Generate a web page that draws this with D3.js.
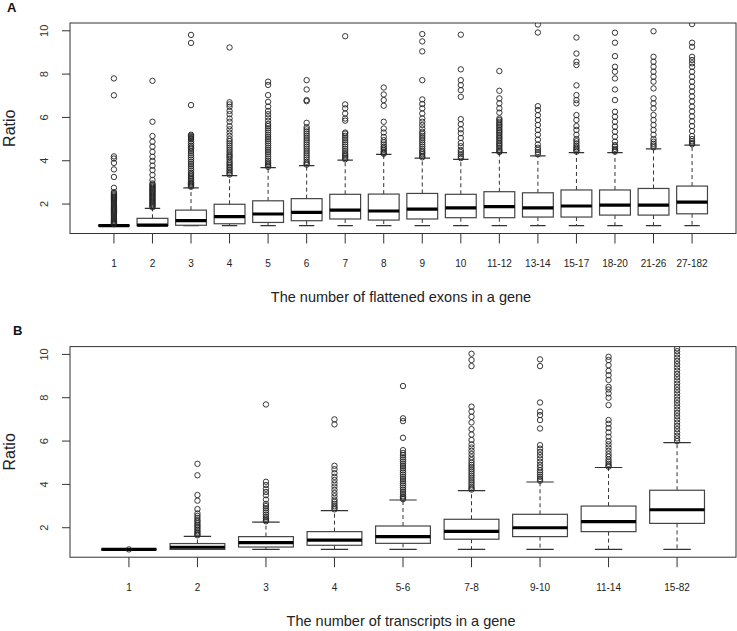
<!DOCTYPE html>
<html><head><meta charset="utf-8">
<script src="https://cdn.jsdelivr.net/npm/d3@7"></script>
<style>
body{margin:0;background:#fff}
svg{display:block}
text{font-family:"Liberation Sans",Arial,Helvetica,sans-serif}
</style></head>
<body><svg id="chart" width="737" height="631"></svg>
<script>
// ---------- Panel A data ----------
const catsA = ["1","2","3","4","5","6","7","8","9","10","11-12","13-14","15-17","18-20","21-26","27-182"];
const loA  = [1.0,1.0,1.0,1.0,1.0,1.0,1.0,1.0,1.0,1.0,1.0,1.0,1.0,1.0,1.0,1.0];
const q1A  = [1.0,1.0,1.02,1.09,1.15,1.23,1.31,1.26,1.31,1.37,1.37,1.40,1.40,1.49,1.49,1.55];
const medA = [1.0,1.03,1.23,1.42,1.54,1.62,1.72,1.68,1.77,1.82,1.88,1.82,1.91,1.95,1.95,2.09];
const q3A  = [1.02,1.34,1.72,1.99,2.15,2.25,2.45,2.46,2.49,2.45,2.57,2.52,2.65,2.65,2.72,2.83];
const hiA  = [1.05,1.80,2.75,3.31,3.68,3.77,4.03,4.29,4.12,4.06,4.37,4.22,4.37,4.37,4.55,4.72];
const outA = [
  [7.80,7.02,4.20,4.10,3.90,3.60,3.25,2.75,2.55,2.5,2.45,2.4,2.35,2.3,2.25,2.2,2.15,2.1,2.05,2.0,1.95,1.9,1.85,1.8,1.75,1.7,1.65,1.6,1.55,1.5,1.45,1.4,1.35,1.3,1.25,1.2,1.15,1.1,1.07],
  [7.69,5.80,5.14,4.88,4.65,4.41,4.18,3.99,3.77,3.57,3.34,3.11,2.95,2.9,2.85,2.8,2.75,2.7,2.65,2.6,2.55,2.5,2.45,2.4,2.35,2.3,2.25,2.2,2.15,2.1,2.05,2.0,1.95,1.9,1.85],
  [9.81,9.44,6.57,5.2,5.15,5.1,5.05,5.0,4.9,4.8,4.7,4.62,4.55,4.45,4.35,4.25,4.15,4.05,3.95,3.85,3.75,3.65,3.55,3.45,3.38,3.3,3.22,3.15,3.08,3.0,2.95,2.9,2.85,2.8],
  [9.23,6.7,6.6,6.49,6.3,6.15,5.95,5.8,5.6,5.45,5.3,5.15,5.0,4.9,4.8,4.7,4.6,4.5,4.4,4.3,4.22,4.15,4.05,3.95,3.88,3.8,3.72,3.65,3.57,3.5,3.42,3.36],
  [7.65,7.5,7.03,6.72,6.5,6.3,6.15,6.0,5.85,5.7,5.6,5.5,5.4,5.3,5.2,5.1,5.0,4.9,4.8,4.7,4.6,4.5,4.4,4.3,4.2,4.1,4.0,3.92,3.85,3.78,3.72],
  [7.72,7.29,6.8,6.75,5.75,5.55,5.45,5.35,5.25,5.15,5.05,4.95,4.85,4.75,4.65,4.55,4.45,4.35,4.25,4.15,4.05,3.95,3.88,3.82],
  [9.75,6.6,6.42,6.18,5.95,5.85,5.3,5.25,5.15,5.05,4.95,4.85,4.75,4.65,4.55,4.45,4.35,4.27,4.2,4.13,4.07],
  [7.38,7.06,6.8,6.54,5.8,5.49,5.3,5.1,4.95,4.85,4.75,4.65,4.58,4.5,4.42,4.36,4.32],
  [9.85,9.51,9.05,7.72,6.83,6.62,6.42,6.18,5.95,5.8,5.65,5.49,5.34,5.25,5.15,5.05,4.95,4.85,4.75,4.65,4.55,4.45,4.38,4.3,4.22,4.16],
  [9.82,8.22,7.72,7.49,7.26,6.95,5.92,5.69,5.45,5.27,5.05,4.82,4.67,4.5,4.4,4.3,4.2,4.12],
  [8.14,7.23,6.88,6.65,6.42,6.22,5.95,5.88,5.8,5.72,5.65,5.58,5.5,5.42,5.35,5.28,5.2,5.12,5.05,4.98,4.9,4.82,4.75,4.68,4.6,4.52,4.45,4.4],
  [10.29,9.92,6.52,6.34,6.1,5.88,5.65,5.42,5.2,4.97,4.75,4.6,4.5,4.4,4.3],
  [9.69,8.95,8.57,8.42,7.48,7.03,6.8,6.65,6.11,5.88,5.6,5.42,5.2,5.0,4.9,4.8,4.7,4.62,4.55,4.48,4.42],
  [9.91,9.45,8.83,8.34,8.11,7.8,7.29,6.8,6.26,6.03,5.8,5.57,5.34,5.11,4.88,4.72,4.65,4.55,4.48,4.42],
  [9.98,8.8,8.57,8.34,8.11,7.88,7.65,7.34,6.88,6.65,6.42,6.11,5.88,5.65,5.42,5.2,5.0,4.88,4.78,4.7,4.62],
  [10.31,9.45,9.26,8.8,8.65,8.5,8.34,8.11,7.88,7.65,7.42,7.2,6.97,6.74,6.5,6.28,6.05,5.82,5.6,5.37,5.14,5.0,4.9,4.82,4.76]
];

// ---------- Panel B data ----------
const catsB = ["1","2","3","4","5-6","7-8","9-10","11-14","15-82"];
const loB  = [1.0,1.0,1.0,1.0,1.0,1.0,1.0,1.0,1.0];
const q1B  = [0.99,1.0,1.11,1.19,1.28,1.47,1.59,1.82,2.20];
const medB = [1.0,1.10,1.31,1.43,1.59,1.83,2.00,2.28,2.83];
const q3B  = [1.01,1.27,1.59,1.82,2.08,2.39,2.62,3.00,3.73];
const hiB  = [1.0,1.60,2.26,2.79,3.28,3.71,4.11,4.78,5.93];
const outB = [
  [1.0],
  [4.95,4.42,3.51,3.25,2.86,2.66,2.55,2.45,2.35,2.28,2.2,2.12,2.05,1.98,1.9,1.83,1.76,1.7,1.65],
  [7.69,4.12,3.97,3.8,3.65,3.5,3.3,3.1,3.0,2.9,2.8,2.7,2.6,2.5,2.42,2.35,2.3],
  [7.0,6.77,4.86,4.7,4.52,4.35,4.2,4.05,3.9,3.75,3.6,3.45,3.3,3.2,3.1,3.0,2.92,2.85],
  [8.54,7.05,6.92,6.15,5.58,5.45,5.35,5.25,5.15,5.05,4.95,4.85,4.75,4.65,4.55,4.45,4.35,4.25,4.15,4.05,3.95,3.85,3.75,3.65,3.55,3.45,3.38,3.32],
  [10.03,9.74,9.46,7.59,7.36,7.12,6.86,6.55,6.3,6.05,5.85,5.7,5.55,5.4,5.25,5.12,5.0,4.9,4.8,4.7,4.6,4.5,4.4,4.3,4.2,4.1,4.0,3.9,3.82,3.76],
  [9.77,9.46,7.78,7.36,7.2,6.97,6.58,5.81,5.65,5.5,5.35,5.2,5.05,4.9,4.78,4.65,4.55,4.45,4.35,4.25,4.17],
  [9.89,9.74,9.5,9.24,9.04,8.82,8.5,8.38,8.2,8.0,7.66,6.97,6.8,6.6,6.4,6.2,6.0,5.85,5.7,5.55,5.4,5.28,5.15,5.05,4.95,4.87,4.82],
  [10.28,10.15,10.0,9.85,9.7,9.55,9.4,9.25,9.1,8.95,8.8,8.65,8.5,8.35,8.2,8.05,7.9,7.75,7.6,7.45,7.3,7.15,7.0,6.85,6.7,6.55,6.4,6.25,6.12,6.0]
];

const yTicks = [2,4,6,8,10];
const yDomain = [0.64, 10.36];

const svg = d3.select("#chart");

function panel(opt){
  const {cats, lo, q1, med, q3, hi, out, top, bottom, letter, letterX, letterY, title, titleY, labelY, id} = opt;
  const n = cats.length;
  const left = 70, right = 736;
  const pad = 0.04 * n;
  const x = d3.scaleLinear().domain([0.5 - pad, n + 0.5 + pad]).range([left, right]);
  const y = d3.scaleLinear().domain(yDomain).range([bottom, top]);
  const bw = x(0.8) - x(0);
  const cw = bw * 0.5;

  const g = svg.append("g");
  svg.append("clipPath").attr("id", id).append("rect")
    .attr("x", left).attr("y", top).attr("width", right - left).attr("height", bottom - top);
  const pg = g.append("g").attr("clip-path", `url(#${id})`);

  cats.forEach((c, i) => {
    const cx = x(i + 1);
    const bg = pg.append("g");
    // whiskers
    bg.append("line").attr("x1", cx).attr("x2", cx).attr("y1", y(q3[i])).attr("y2", y(hi[i]))
      .attr("stroke", "#333").attr("stroke-width", 1).attr("stroke-dasharray", "4,3");
    bg.append("line").attr("x1", cx).attr("x2", cx).attr("y1", y(q1[i])).attr("y2", y(lo[i]))
      .attr("stroke", "#333").attr("stroke-width", 1).attr("stroke-dasharray", "4,3");
    // staples
    [lo[i], hi[i]].forEach(v => {
      bg.append("line").attr("x1", cx - cw/2).attr("x2", cx + cw/2).attr("y1", y(v)).attr("y2", y(v))
        .attr("stroke", "#333").attr("stroke-width", 1.2);
    });
    // box
    bg.append("rect").attr("x", cx - bw/2).attr("width", bw)
      .attr("y", y(q3[i])).attr("height", Math.max(0.5, y(q1[i]) - y(q3[i])))
      .attr("fill", "#fff").attr("stroke", "#444").attr("stroke-width", 1.2);
    // median
    bg.append("line").attr("x1", cx - bw/2).attr("x2", cx + bw/2).attr("y1", y(med[i])).attr("y2", y(med[i]))
      .attr("stroke", "#000").attr("stroke-width", 3.2);
    // outliers
    bg.selectAll("circle").data(out[i]).join("circle")
      .attr("cx", cx).attr("cy", d => y(d)).attr("r", 2.7)
      .attr("fill", "none").attr("stroke", "#222").attr("stroke-width", 0.9);
  });

  // frame
  g.append("rect").attr("x", left).attr("y", top).attr("width", right - left).attr("height", bottom - top)
    .attr("fill", "none").attr("stroke", "#333").attr("stroke-width", 1);

  // x ticks
  const xt = g.append("g");
  cats.forEach((c, i) => {
    xt.append("line").attr("x1", x(i+1)).attr("x2", x(i+1)).attr("y1", bottom).attr("y2", bottom + 10)
      .attr("stroke", "#333").attr("stroke-width", 1);
    xt.append("text").attr("x", x(i+1)).attr("y", labelY).attr("text-anchor", "middle")
      .attr("font-size", 10).attr("fill", "#222").text(c);
  });
  // y ticks
  const yt = g.append("g");
  yTicks.forEach(t => {
    yt.append("line").attr("x1", left - 8).attr("x2", left).attr("y1", y(t)).attr("y2", y(t))
      .attr("stroke", "#333").attr("stroke-width", 1);
    yt.append("text").attr("transform", `translate(48,${y(t)}) rotate(-90)`)
      .attr("text-anchor", "middle").attr("font-size", 11).attr("fill", "#333").text(t);
  });
  // y label
  g.append("text").attr("transform", `translate(15,${(top+bottom)/2}) rotate(-90)`)
    .attr("text-anchor", "middle").attr("font-size", 16).attr("fill", "#222").text("Ratio");
  // x title
  g.append("text").attr("x", (left+right)/2 - 2).attr("y", titleY).attr("text-anchor", "middle")
    .attr("font-size", 14.5).attr("fill", "#222").text(title);
  // panel letter
  g.append("text").attr("x", letterX).attr("y", letterY).attr("font-size", 13).attr("font-weight", "bold")
    .attr("fill", "#111").text(letter);
}

panel({cats: catsA, lo: loA, q1: q1A, med: medA, q3: q3A, hi: hiA, out: outA,
  top: 23, bottom: 233.5, letter: "A", letterX: 7, letterY: 11.5,
  title: "The number of flattened exons in a gene", titleY: 302, labelY: 267, id: "clipA"});
panel({cats: catsB, lo: loB, q1: q1B, med: medB, q3: q3B, hi: hiB, out: outB,
  top: 346.6, bottom: 557.2, letter: "B", letterX: 13, letterY: 335,
  title: "The number of transcripts in a gene", titleY: 625.5, labelY: 590.5, id: "clipB"});
</script></body></html>
